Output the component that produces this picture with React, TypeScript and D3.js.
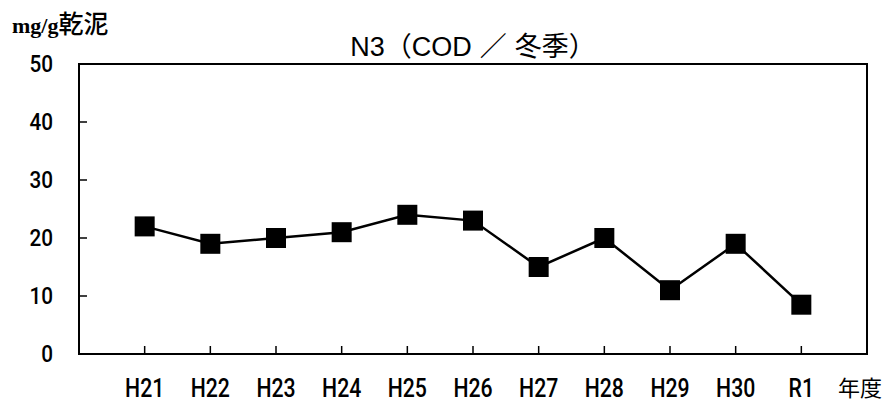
import React from "react";
import * as d3 from "d3";

const categories = ["H21", "H22", "H23", "H24", "H25", "H26", "H27", "H28", "H29", "H30", "R1"];
const values = [22, 19, 20, 21, 24, 23, 15, 20, 11, 19, 8.5];
const yTicks = [0, 10, 20, 30, 40, 50];
const titleParts = ["N3", "（", "COD", "／", "冬季", "）"];
const yUnitLatin = "mg/g";
const yUnitCjk = "乾泥";
const xUnit = "年度";

export default function App() {
  const W = 888, H = 403;
  const left = 79, right = 867, top = 64, bottom = 354;
  const x = d3.scaleLinear().domain([0, categories.length + 1]).range([left, right]);
  const y = d3.scaleLinear().domain([0, 50]).range([bottom, top]);
  const line = d3.line<number>().x((_, i) => x(i + 1)).y((d) => y(d));
  const tickFont = "Roboto, 'Noto Sans', sans-serif";
  const cjk = "'Noto Sans CJK JP', sans-serif";
  const lat = "'Liberation Sans', Arial, sans-serif";
  return (
    <svg width={W} height={H} style={{ position: "absolute", left: 0, top: 0 }}>
      <rect x={0} y={0} width={W} height={H} fill="#fff" />
      <text x={12} y={33} fontWeight="bold">
        <tspan fontFamily="'Liberation Serif', serif" fontSize={22}>{yUnitLatin}</tspan>
        <tspan fontFamily={cjk} fontSize={25} fontWeight={500}>{yUnitCjk}</tspan>
      </text>
      <text x={473} y={56} textAnchor="middle" fontSize={27}>
        <tspan fontFamily={lat}>{titleParts[0]}</tspan>
        <tspan fontFamily={cjk}>{titleParts[1]}</tspan>
        <tspan fontFamily={lat}>{titleParts[2]}</tspan>
        <tspan fontFamily={cjk} dx={8}>{titleParts[3]}</tspan>
        <tspan fontFamily={cjk} dx={8}>{titleParts[4]}</tspan>
        <tspan fontFamily={cjk}>{titleParts[5]}</tspan>
      </text>
      <rect x={left} y={top} width={right - left} height={bottom - top} fill="none" stroke="#000" strokeWidth={2} />
      {yTicks.map((t) => (
        <g key={t}>
          <line x1={left} x2={left + 8} y1={y(t)} y2={y(t)} stroke="#000" strokeWidth={1.5} />
          <text transform={`translate(53,${y(t)}) scale(0.9,1)`} dy="0.36em" textAnchor="end" fontFamily={tickFont} fontWeight={500} fontSize={23}>{t}</text>
        </g>
      ))}
      {categories.map((c, i) => (
        <g key={c}>
          <line x1={x(i + 1)} x2={x(i + 1)} y1={bottom} y2={bottom - 8} stroke="#000" strokeWidth={1.5} />
          <text transform={`translate(${x(i + 1)},397) scale(0.85,1)`} textAnchor="middle" fontFamily={tickFont} fontWeight={500} fontSize={25}>{c}</text>
        </g>
      ))}
      <text x={860} y={396} textAnchor="middle" fontFamily={cjk} fontSize={22}>{xUnit}</text>
      <path d={line(values) || ""} fill="none" stroke="#000" strokeWidth={2.5} />
      {values.map((v, i) => (
        <rect key={i} x={x(i + 1) - 10} y={y(v) - 10} width={20} height={20} fill="#000" />
      ))}
    </svg>
  );
}
